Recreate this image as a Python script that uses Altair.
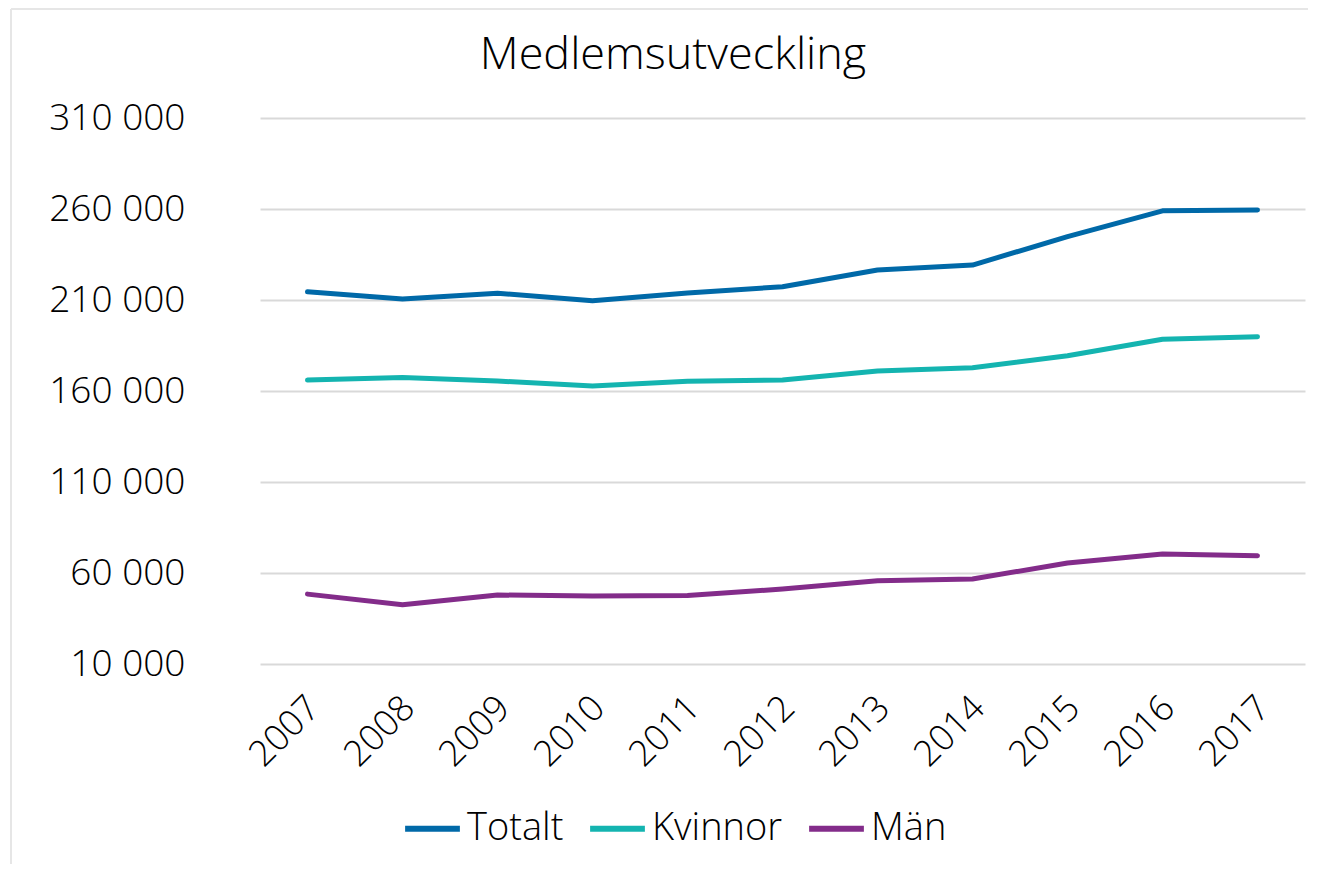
import altair as alt
import pandas as pd

years = ["2007", "2008", "2009", "2010", "2011", "2012", "2013", "2014", "2015", "2016", "2017"]
totalt = [214500, 210500, 213700, 209600, 213800, 217300, 226500, 229200, 244800, 259000, 259400]
kvinnor = [166000, 167400, 165500, 162700, 165300, 166000, 171000, 172800, 179400, 188400, 189800]
man = [48400, 42600, 47900, 47400, 47700, 51200, 55800, 56700, 65500, 70400, 69500]
series = ["Totalt", "Kvinnor", "Män"]
colors = ["#0069A8", "#14B4B0", "#832C8A"]
y_ticks = [10000, 60000, 110000, 160000, 210000, 260000, 310000]
title_text = ["Medlemsutveckling"]

rows = []
for name, vals in zip(series, [totalt, kvinnor, man]):
    for yr, v in zip(years, vals):
        rows.append({"År": yr, "Serie": name, "Antal": v})
df = pd.DataFrame(rows)

font = "Open Sans"

lines = alt.Chart(df).mark_line(strokeWidth=5, strokeCap="round", strokeJoin="round").encode(
    x=alt.X("År:O", sort=years, scale=alt.Scale(type="point", padding=0.5),
            axis=alt.Axis(title=None, labelAngle=315, labelFontSize=36, labelFont=font,
                          labelFontWeight=300,
                          labelColor="#000000", domain=False, ticks=False, grid=False,
                          labelPadding=26, labelOffset=-6)),
    y=alt.Y("Antal:Q", scale=alt.Scale(domain=[10000, 310000], nice=False, zero=False),
            axis=alt.Axis(title=None, values=y_ticks, format=",d", labelExpr="replace(datum.label, /,/g, ' ')",
                          labelFontSize=37, labelFont=font, labelFontWeight=300, labelColor="#000000",
                          domain=False, ticks=False, gridColor="#d9d9d9", gridWidth=2,
                          labelPadding=75)),
    color=alt.Color("Serie:N", sort=series, scale=alt.Scale(domain=series, range=colors),
                    legend=alt.Legend(title=None, orient="none", legendX=142, legendY=680,
                                      direction="horizontal", symbolType="stroke",
                                      symbolSize=3000, symbolStrokeWidth=6,
                                      labelFontSize=38, labelFont=font, labelFontWeight=300,
                                      labelColor="#000000",
                                      labelOffset=4, columnPadding=14)),
)

frame_df = pd.DataFrame({"k": [0]})
left_edge = alt.Chart(frame_df).mark_rule(color="#e6e6e6", strokeWidth=2).encode(
    x=alt.value(-249), y=alt.value(-109), y2=alt.value(770))
top_edge = alt.Chart(frame_df).mark_rule(color="#e6e6e6", strokeWidth=2).encode(
    x=alt.value(-249), x2=alt.value(1048), y=alt.value(-109))

title = alt.Chart(pd.DataFrame({"t": title_text})).mark_text(
    font=font, fontSize=45, fontWeight=300, color="#000000", align="center", baseline="alphabetic"
).encode(text="t:N", x=alt.value(413), y=alt.value(-49))

chart = alt.layer(left_edge, top_edge, title, lines).properties(
    width=1045,
    height=546,
    autosize=alt.AutoSizeParams(type="none"),
    padding={"left": 252, "top": 110, "right": 4, "bottom": 200},
).configure_view(stroke=None)

chart.save("out.html", embed_options={"renderer": "svg", "actions": False})
